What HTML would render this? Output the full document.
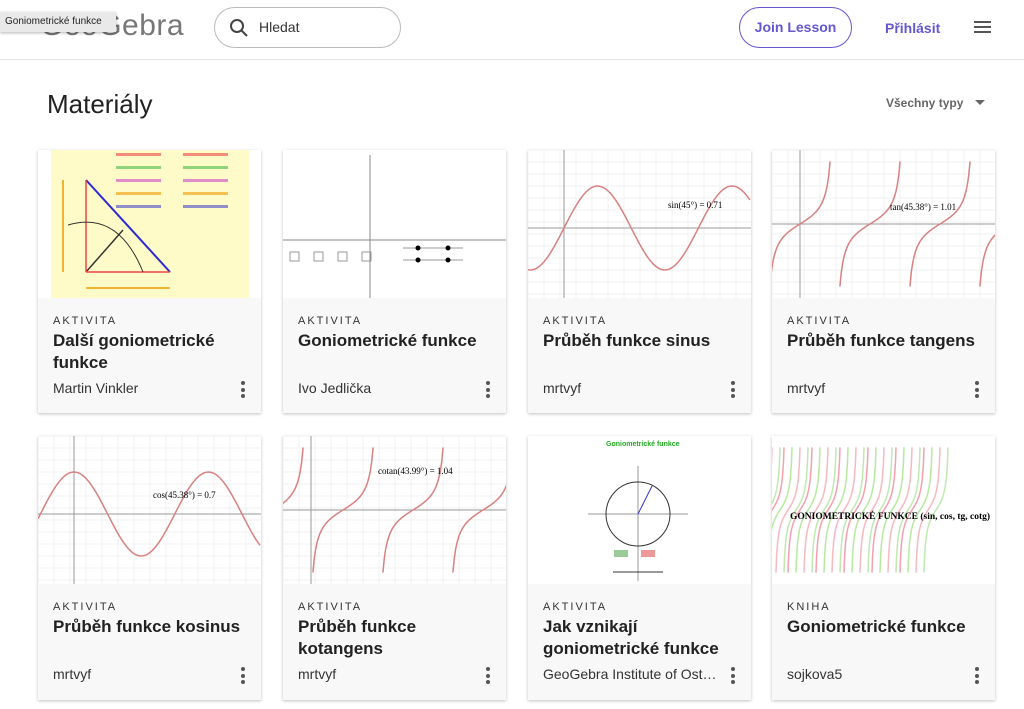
<!DOCTYPE html>
<html><head><meta charset="utf-8">
<style>
*{box-sizing:border-box;margin:0;padding:0}
body{width:1024px;height:709px;overflow:hidden;background:#fff;font-family:"Liberation Sans",sans-serif;position:relative;color:#1a1a1a}
.abs{position:absolute}
.card{position:absolute;width:223px;background:#f8f8f8;box-shadow:0 1px 3px rgba(0,0,0,.25)}
.thumb{height:148px;background:#fff;overflow:hidden;position:relative}
.type{position:absolute;left:15px;font-size:11px;letter-spacing:2px;color:#333}
.title{position:absolute;left:15px;width:200px;font-size:17px;font-weight:bold;line-height:22px;color:#222}
.author{position:absolute;left:15px;font-size:14px;color:#333}
.kebab{position:absolute;right:16px;width:4px}
.kebab i{display:block;width:4px;height:4px;border-radius:2px;background:#555;margin-bottom:2.5px}
</style></head><body>
<div class="abs" style="left:0;top:0;width:1024px;height:60px;border-bottom:1px solid #e2e2e2"></div>
<div class="abs" style="left:40px;top:9px;font-size:30px;color:#777;letter-spacing:.5px">GeoGebra</div>
<div class="abs" style="left:0;top:12px;width:116px;height:20px;background:#e9e9e9;box-shadow:0 1px 3px rgba(0,0,0,.3);font-size:10px;line-height:20px;padding-left:5px;color:#222">Goniometrické funkce</div>
<div class="abs" style="left:214px;top:7px;width:187px;height:41px;border:1px solid #bbb;border-radius:21px">
<svg class="abs" style="left:14px;top:10px" width="20" height="20"><circle cx="8" cy="8" r="6" stroke="#444" stroke-width="2" fill="none"/><line x1="12.5" y1="12.5" x2="18" y2="18" stroke="#444" stroke-width="2"/></svg>
<span class="abs" style="left:44px;top:11px;font-size:14px;color:#333">Hledat</span></div>
<div class="abs" style="left:739px;top:7px;width:113px;height:41px;border:1px solid #6557d2;border-radius:21px;color:#6557d2;font-size:14px;font-weight:bold;text-align:center;line-height:39px">Join Lesson</div>
<div class="abs" style="left:885px;top:20px;color:#6557d2;font-size:14px;font-weight:bold">Přihlásit</div>
<div class="abs" style="left:974px;top:21px;width:17px">
<div style="height:2px;background:#555;margin-bottom:3px"></div><div style="height:2px;background:#555;margin-bottom:3px"></div><div style="height:2px;background:#555"></div></div>
<div class="abs" style="left:47px;top:89px;font-size:26px;color:#222">Materiály</div>
<div class="abs" style="left:886px;top:96px;font-size:12px;font-weight:bold;color:#666">Všechny typy <span style="display:inline-block;margin-left:8px;border-left:5px solid transparent;border-right:5px solid transparent;border-top:5px solid #666;vertical-align:2px"></span></div>
<div id="cards"></div>
<script>
const cards=[
 [38,150,"AKTIVITA","Další goniometrické funkce","Martin Vinkler","geo"],
 [283,150,"AKTIVITA","Goniometrické funkce","Ivo Jedlička","axes"],
 [528,150,"AKTIVITA","Průběh funkce sinus","mrtvyf","sin"],
 [772,150,"AKTIVITA","Průběh funkce tangens","mrtvyf","tan"],
 [38,436,"AKTIVITA","Průběh funkce kosinus","mrtvyf","cos"],
 [283,436,"AKTIVITA","Průběh funkce kotangens","mrtvyf","cot"],
 [528,436,"AKTIVITA","Jak vznikají goniometrické funkce","GeoGebra Institute of Ost…","circle"],
 [772,436,"KNIHA","Goniometrické funkce","sojkova5","book"]];
function grid(){let s='';for(let x=0;x<223;x+=16)s+=`<line x1="${x}" y1="0" x2="${x}" y2="148" stroke="#f0f0f0"/>`;for(let y=0;y<148;y+=12)s+=`<line x1="0" y1="${y}" x2="223" y2="${y}" stroke="#f0f0f0"/>`;return s}
function curve(f,c,w){let d='';for(let x=0;x<=223;x+=2){let y=f(x);d+=(d?'L':'M')+x+','+y.toFixed(1)}return `<path d="${d}" stroke="${c}" stroke-width="${w||1.5}" fill="none"/>`}
function tanPath(off,per,c){let s='';for(let k=-1;k<6;k++){let d='';for(let t=-0.45;t<=0.45;t+=0.02){let x=off+k*per+t*per;let y=74-Math.tan(t*Math.PI)*14;if(y<0||y>148)continue;d+=(d?'L':'M')+x.toFixed(1)+','+y.toFixed(1)}if(d)s+=`<path d="${d}" stroke="${c}" stroke-width="1.5" fill="none"/>`}return s}
function thumb(k){
 let s='<svg width="223" height="148">';
 if(k=='geo'){s+='<rect x="13" y="0" width="198" height="148" fill="#fffbc8"/><line x1="48" y1="30" x2="132" y2="122" stroke="#2b2bd6" stroke-width="2"/><line x1="48" y1="122" x2="85" y2="80" stroke="#333" stroke-width="1.5"/><line x1="48" y1="30" x2="48" y2="122" stroke="#e44" stroke-width="1.5"/><line x1="48" y1="122" x2="132" y2="122" stroke="#e44" stroke-width="1.5"/><path d="M30,75 Q80,60 105,122" stroke="#333" fill="none"/><line x1="25" y1="30" x2="25" y2="122" stroke="#e90" stroke-width="1.5"/><line x1="48" y1="138" x2="132" y2="138" stroke="#e90" stroke-width="1.5"/>';
  for(let i=0;i<5;i++){s+=`<rect x="78" y="${3+i*13}" width="45" height="3" fill="${['#e44','#4b4','#c4c','#e90','#44c'][i]}" opacity=".6"/><rect x="145" y="${3+i*13}" width="45" height="3" fill="${['#e44','#4b4','#c4c','#e90','#44c'][i]}" opacity=".6"/>`}}
 else if(k=='axes'){s+='<line x1="0" y1="90" x2="223" y2="90" stroke="#888"/><line x1="87" y1="5" x2="87" y2="148" stroke="#888"/>';for(let i=0;i<4;i++)s+=`<rect x="${7+i*24}" y="102" width="9" height="9" fill="none" stroke="#999"/>`;s+='<line x1="120" y1="98" x2="180" y2="98" stroke="#999"/><line x1="120" y1="110" x2="180" y2="110" stroke="#999"/><circle cx="135" cy="98" r="2.5"/><circle cx="165" cy="98" r="2.5"/><circle cx="135" cy="110" r="2.5"/><circle cx="165" cy="110" r="2.5"/>'}
 else if(k=='sin'||k=='cos'){s+=grid()+'<line x1="0" y1="78" x2="223" y2="78" stroke="#999"/><line x1="36" y1="0" x2="36" y2="148" stroke="#999"/>';let ph=k=='sin'?0:Math.PI/2;s+=curve(x=>78-42*Math.sin((x-36)/64*Math.PI/1.05+ph),'#d98080');s+=`<text x="${k=='sin'?140:115}" y="${k=='sin'?58:62}" font-size="9" font-family="Liberation Serif">${k=='sin'?'sin(45°) = 0.71':'cos(45.38°) = 0.7'}</text>`}
 else if(k=='tan'||k=='cot'){s+=grid()+'<line x1="0" y1="74" x2="223" y2="74" stroke="#999"/><line x1="28" y1="0" x2="28" y2="148" stroke="#999"/>';s+=tanPath(k=='tan'?28:-10,70,'#d98080');s+=`<text x="${k=='tan'?118:95}" y="${k=='tan'?60:38}" font-size="9" font-family="Liberation Serif">${k=='tan'?'tan(45.38°) = 1.01':'cotan(43.99°) = 1.04'}</text>`}
 else if(k=='circle'){s+='<text x="78" y="10" font-size="7" fill="#2a2" font-weight="bold">Goniometrické funkce</text><line x1="60" y1="78" x2="160" y2="78" stroke="#999"/><line x1="110" y1="30" x2="110" y2="145" stroke="#999"/><circle cx="110" cy="78" r="32" fill="none" stroke="#333"/><line x1="110" y1="78" x2="124" y2="50" stroke="#33c"/><rect x="86" y="114" width="14" height="7" fill="#9c9"/><rect x="113" y="114" width="14" height="7" fill="#e99"/><line x1="85" y1="136" x2="135" y2="136" stroke="#333"/>'}
 else {const cs=['#f4a0b0','#b8e8a0','#f8b8c0','#c0e8b0'];for(let i=0;i<4;i++)s+=tanPath(i*8,28,cs[i]);s+='<text x="18" y="83" font-size="9.5" font-weight="bold" font-family="Liberation Serif">GONIOMETRICKÉ FUNKCE (sin, cos, tg, cotg)</text>'}
 return s+'</svg>'}
const root=document.getElementById('cards');
cards.forEach((c,i)=>{
 const el=document.createElement('div');el.className='card';
 
 
 el.style.left=c[0]+'px';el.style.top=c[1]+'px';el.style.height=(i<4?263:264)+'px';
 el.innerHTML=`<div class="thumb">${thumb(c[5])}</div>
 <div class="type" style="top:165px">${c[2]}</div>
 <div class="title" style="top:180px">${c[3]}</div>
 <div class="author" style="top:230px">${c[4]}</div>
 <div class="kebab" style="top:231px"><i></i><i></i><i></i></div>`;
 root.appendChild(el);
});
</script>
</body></html>
